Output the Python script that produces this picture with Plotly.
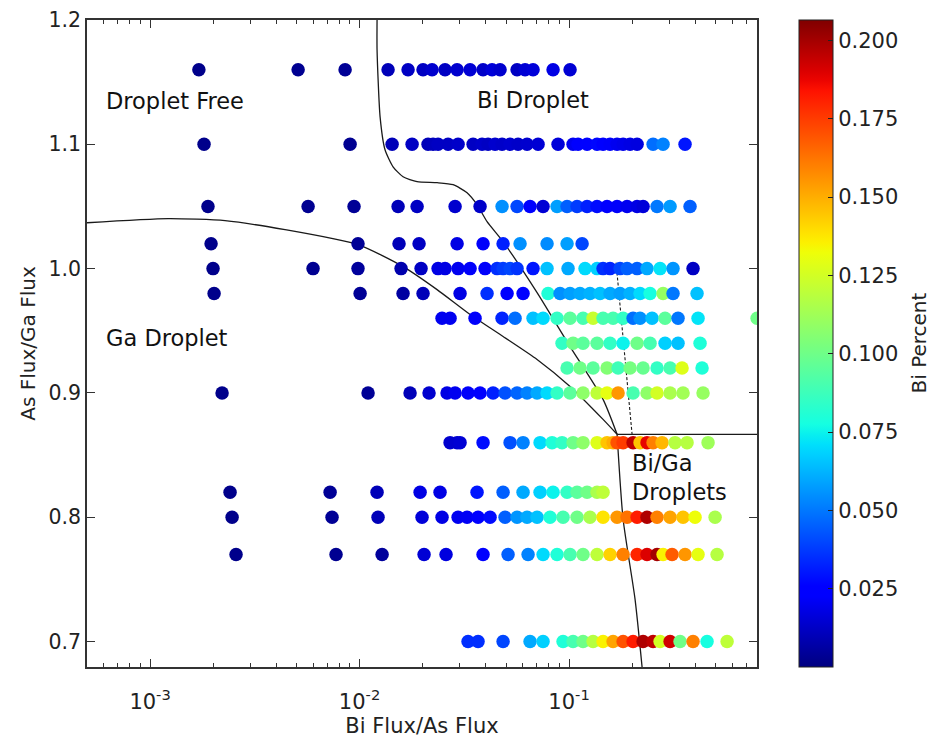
import numpy as np
import plotly.graph_objects as go

# ---- growth-condition map: Bi/As flux ratio (x), As/Ga flux ratio (y), Bi fraction (colour)
x_116 = [0.00171, 0.00509, 0.00853, 0.01368, 0.01704, 0.02009, 0.02219, 0.02559, 0.02921,
         0.03369, 0.03886, 0.04291, 0.04685, 0.05647, 0.06166, 0.06733, 0.08387, 0.1011]
c_116 = [0.002, 0.003, 0.004, 0.010, 0.012, 0.012, 0.014, 0.012, 0.014,
         0.015, 0.013, 0.016, 0.014, 0.012, 0.015, 0.016, 0.018, 0.015]

x_110 = [0.00181, 0.00901, 0.0143, 0.01781, 0.02123, 0.02243, 0.0237, 0.02645, 0.02953, 0.03482,
         0.03843, 0.04106, 0.04435, 0.04789, 0.05229, 0.0571, 0.06303, 0.07113, 0.08861, 0.1045,
         0.1104, 0.1219, 0.136, 0.1453, 0.1569, 0.1695, 0.1811, 0.1955, 0.2112, 0.2518, 0.281, 0.3578]
c_110 = [0.002, 0.003, 0.010, 0.012, 0.010, 0.011, 0.012, 0.012, 0.013, 0.012,
         0.013, 0.012, 0.014, 0.013, 0.014, 0.013, 0.014, 0.015, 0.016, 0.020,
         0.024, 0.026, 0.027, 0.025, 0.022, 0.020, 0.019, 0.018, 0.017, 0.048, 0.052, 0.030]

x_105 = [0.00189, 0.00568, 0.00941, 0.01527, 0.01882, 0.02857, 0.0376, 0.04789, 0.05647, 0.06514,
         0.07515, 0.08764, 0.09783, 0.1092, 0.1219, 0.136, 0.1518, 0.1695, 0.1892, 0.2112,
         0.2256, 0.263, 0.3035, 0.378]
c_105 = [0.002, 0.003, 0.004, 0.010, 0.012, 0.014, 0.013, 0.055, 0.040, 0.025,
         0.015, 0.058, 0.045, 0.038, 0.032, 0.028, 0.025, 0.022, 0.020, 0.018,
         0.016, 0.050, 0.057, 0.045]

x_102 = [0.001955, 0.00983, 0.01543, 0.01923, 0.02921, 0.03886, 0.04842, 0.05836, 0.07852,
         0.09783, 0.1154]
c_102 = [0.002, 0.004, 0.010, 0.012, 0.018, 0.022, 0.032, 0.055, 0.054, 0.058, 0.040]

x_100 = [0.001998, 0.005998, 0.00983, 0.01578, 0.01966, 0.0237, 0.02559, 0.02953, 0.03369, 0.03972,
         0.04533, 0.04842, 0.05229, 0.05647, 0.06733, 0.07852, 0.0989, 0.1192, 0.136, 0.1453,
         0.1569, 0.1752, 0.1892, 0.2112, 0.2356, 0.2719, 0.3136, 0.3907]
c_100 = [0.002, 0.003, 0.005, 0.008, 0.012, 0.018, 0.018, 0.020, 0.022, 0.022,
         0.035, 0.038, 0.040, 0.036, 0.030, 0.065, 0.060, 0.070, 0.068, 0.035,
         0.033, 0.040, 0.045, 0.045, 0.060, 0.072, 0.056, 0.012]

x_098 = [0.002021, 0.01006, 0.01613, 0.02009, 0.03018, 0.04061, 0.0506, 0.06032, 0.07939, 0.09057,
         0.1011, 0.1128, 0.1259, 0.1406, 0.1569, 0.1752, 0.1955, 0.2182, 0.2436, 0.281,
         0.3136, 0.4083]
c_098 = [0.002, 0.004, 0.006, 0.010, 0.018, 0.035, 0.025, 0.025, 0.080, 0.055,
         0.058, 0.060, 0.062, 0.065, 0.060, 0.058, 0.062, 0.070, 0.078, 0.110,
         0.050, 0.065]

x_096 = [0.02476, 0.02704, 0.03559, 0.04789, 0.05524, 0.06733, 0.07515, 0.08764, 0.1011, 0.1166,
         0.1302, 0.1453, 0.1622, 0.1811, 0.2021, 0.2182, 0.249, 0.2872, 0.3313, 0.4128, 0.7898]
c_096 = [0.020, 0.020, 0.022, 0.033, 0.048, 0.065, 0.070, 0.085, 0.095, 0.090,
         0.122, 0.090, 0.090, 0.085, 0.048, 0.055, 0.065, 0.095, 0.050, 0.072, 0.100]

x_094 = [0.09259, 0.1045, 0.1166, 0.136, 0.1569, 0.1811, 0.2112, 0.2436, 0.2872, 0.3313, 0.422]
c_094 = [0.085, 0.100, 0.095, 0.095, 0.085, 0.075, 0.100, 0.090, 0.068, 0.065, 0.080]

x_092 = [0.09783, 0.1128, 0.1302, 0.1518, 0.1714, 0.1955, 0.2256, 0.263, 0.3035, 0.3462, 0.4313]
c_092 = [0.090, 0.100, 0.095, 0.105, 0.088, 0.102, 0.098, 0.085, 0.090, 0.128, 0.080]

x_090 = [0.002207, 0.01098, 0.01742, 0.02146, 0.02616, 0.02857, 0.03295, 0.0376, 0.04338, 0.04949,
         0.05647, 0.06303, 0.07036, 0.07852, 0.08764, 0.1011, 0.1166, 0.136, 0.1518, 0.1714,
         0.2021, 0.2356, 0.263, 0.3035, 0.35, 0.436]
c_090 = [0.002, 0.004, 0.010, 0.014, 0.018, 0.020, 0.022, 0.025, 0.032, 0.042,
         0.046, 0.052, 0.060, 0.070, 0.085, 0.095, 0.108, 0.120, 0.130, 0.155,
         0.090, 0.108, 0.125, 0.115, 0.113, 0.110]

x_086 = [0.02704, 0.02921, 0.03018, 0.03886, 0.05229, 0.06032, 0.07271, 0.08296, 0.09259, 0.1045,
         0.1166, 0.136, 0.1518, 0.1622, 0.1695, 0.1811, 0.2021, 0.2182, 0.2356, 0.2518,
         0.2779, 0.3206, 0.3657, 0.4607]
c_086 = [0.014, 0.014, 0.015, 0.028, 0.042, 0.052, 0.070, 0.080, 0.085, 0.100,
         0.108, 0.128, 0.145, 0.150, 0.170, 0.175, 0.195, 0.145, 0.188, 0.160,
         0.148, 0.118, 0.118, 0.112]

x_082 = [0.002409, 0.007232, 0.01212, 0.01945, 0.02422, 0.03638, 0.04842, 0.06032, 0.07271,
         0.08387, 0.09783, 0.1092, 0.1219, 0.136, 0.1453]
c_082 = [0.002, 0.004, 0.010, 0.018, 0.018, 0.030, 0.045, 0.060, 0.068,
         0.075, 0.085, 0.095, 0.100, 0.115, 0.120]

x_080 = [0.002463, 0.00739, 0.01225, 0.01987, 0.02476, 0.02953, 0.0326, 0.03678, 0.04197, 0.04949,
         0.05647, 0.06303, 0.07036, 0.08115, 0.09361, 0.1092, 0.1259, 0.1453, 0.1695, 0.1892,
         0.2112, 0.2356, 0.263, 0.3035, 0.35, 0.3994, 0.4977]
c_080 = [0.002, 0.004, 0.010, 0.016, 0.018, 0.020, 0.021, 0.025, 0.028, 0.045,
         0.056, 0.060, 0.065, 0.080, 0.090, 0.100, 0.115, 0.138, 0.155, 0.163,
         0.182, 0.198, 0.160, 0.152, 0.145, 0.132, 0.115]

x_077 = [0.002573, 0.00772, 0.01281, 0.02032, 0.02587, 0.03886, 0.05115, 0.06373, 0.07515, 0.08764,
         0.1011, 0.1166, 0.136, 0.1569, 0.1811, 0.2112, 0.2356, 0.263, 0.281, 0.3102,
         0.3578, 0.4128, 0.5087]
c_077 = [0.002, 0.003, 0.005, 0.015, 0.017, 0.025, 0.045, 0.052, 0.070, 0.080,
         0.090, 0.100, 0.120, 0.142, 0.160, 0.180, 0.190, 0.200, 0.135, 0.168,
         0.155, 0.130, 0.118]

x_070 = [0.03295, 0.03678, 0.04842, 0.06514, 0.07515, 0.09361, 0.1045, 0.1166, 0.1302, 0.1453,
         0.1622, 0.1811, 0.2021, 0.2256, 0.2518, 0.2719, 0.3035, 0.3387, 0.3907, 0.4557, 0.5679]
c_070 = [0.035, 0.035, 0.040, 0.060, 0.068, 0.080, 0.090, 0.100, 0.118, 0.135,
         0.152, 0.170, 0.182, 0.198, 0.195, 0.125, 0.192, 0.100, 0.160, 0.078, 0.120]

rows = [
    (1.16, x_116, c_116), (1.10, x_110, c_110), (1.05, x_105, c_105), (1.02, x_102, c_102),
    (1.00, x_100, c_100), (0.98, x_098, c_098), (0.96, x_096, c_096), (0.94, x_094, c_094),
    (0.92, x_092, c_092), (0.90, x_090, c_090), (0.86, x_086, c_086), (0.82, x_082, c_082),
    (0.80, x_080, c_080), (0.77, x_077, c_077), (0.70, x_070, c_070),
]

# ---- phase boundaries
ga_bound_x = [0.0005, 0.001219, 0.00228, 0.00441, 0.00983, 0.01613, 0.02344, 0.03369,
              0.04842, 0.07036, 0.1011, 0.1453, 0.1695]
ga_bound_y = [1.0369, 1.0402, 1.0386, 1.0313, 1.0193, 1.0016, 0.9831, 0.9631,
              0.9454, 0.9269, 0.9052, 0.8787, 0.8667]

bi_bound_x = [0.01212, 0.01212, 0.01253, 0.01323, 0.01445, 0.01613, 0.01882, 0.02344, 0.02795,
              0.0326, 0.03638, 0.04061, 0.04842, 0.07036, 0.1011, 0.1453, 0.1695]
bi_bound_y = [1.2, 1.1759, 1.1221, 1.0956, 1.0819, 1.0739, 1.0699, 1.0691, 1.0675,
              1.0610, 1.0514, 1.0378, 1.0217, 0.9807, 0.9373, 0.8948, 0.8667]

biga_bound_x = [0.1695, 0.1811, 0.2065, 0.2231]
biga_bound_y = [0.8667, 0.7984, 0.7341, 0.6795]

flat_bound_x = [0.1695, 0.9]
flat_bound_y = [0.8667, 0.8667]

dash_x = [0.1676, 0.1999]
dash_y = [1.0048, 0.8667]

cbar_ticks = [0.025, 0.050, 0.075, 0.100, 0.125, 0.150, 0.175, 0.200]
y_ticks = [0.7, 0.8, 0.9, 1.0, 1.1, 1.2]

# ---- matplotlib-style "jet" colour map
def jet_scale(n=65):
    r = ([0, 0.35, 0.66, 0.89, 1], [0, 0, 1, 1, 0.5])
    g = ([0, 0.125, 0.375, 0.64, 0.91, 1], [0, 0, 1, 1, 0, 0])
    b = ([0, 0.11, 0.34, 0.65, 1], [0.5, 1, 1, 0, 0])
    out = []
    for t in np.linspace(0, 1, n):
        rr = np.interp(t, *r); gg = np.interp(t, *g); bb = np.interp(t, *b)
        out.append([float(t), f"rgb({int(round(rr*255))},{int(round(gg*255))},{int(round(bb*255))})"])
    return out

FONT = "DejaVu Sans"
INK = "#222222"

px_all, py_all, pc_all = [], [], []
for yv, xs, cs in rows:
    px_all += xs
    py_all += [yv] * len(xs)
    pc_all += cs

fig = go.Figure()

line_style = dict(color="#1a1a1a", width=1.3)
for lx, ly in [(ga_bound_x, ga_bound_y), (bi_bound_x, bi_bound_y),
               (biga_bound_x, biga_bound_y), (flat_bound_x, flat_bound_y)]:
    fig.add_trace(go.Scatter(x=lx, y=ly, mode="lines", line=dict(line_style, shape="spline", smoothing=0.6),
                             showlegend=False, hoverinfo="skip"))
fig.add_trace(go.Scatter(x=dash_x, y=dash_y, mode="lines",
                         line=dict(color="#1a1a1a", width=1.1, dash="3px,2px"),
                         showlegend=False, hoverinfo="skip"))

fig.add_trace(go.Scatter(
    x=px_all, y=py_all, mode="markers", showlegend=False,
    marker=dict(
        size=13.5, color=pc_all, colorscale=jet_scale(), cmin=0.0, cmax=0.2065,
        line=dict(width=0),
        colorbar=dict(
            x=(799 - 87) / 670, xanchor="left", xpad=0,
            y=0.5, yanchor="middle", len=1, lenmode="fraction", ypad=0,
            thickness=34, outlinewidth=1, outlinecolor=INK,
            tickvals=cbar_ticks, tickformat=".3f", ticks="inside", ticklen=5,
            tickcolor=INK, tickfont=dict(family=FONT, size=21, color=INK),
        ),
    ),
))

ann_font = dict(family=FONT, size=22.5, color="#111111")
for txt, ax_, ay_ in [("Droplet Free", 0.000603, 1.1349), ("Bi Droplet", 0.0356, 1.1357),
                      ("Ga Droplet", 0.000603, 0.9438), ("Bi/Ga<br>Droplets", 0.1955, 0.8321)]:
    fig.add_annotation(x=np.log10(ax_), y=ay_, xref="x", yref="y", text=txt, showarrow=False,
                       xanchor="left", yanchor="middle", align="left", font=ann_font)

# colour-bar title, rotated and set just right of the tick labels
fig.add_annotation(x=(918 - 87) / 670, y=0.5, xref="paper", yref="paper", text="Bi Percent",
                   textangle=-90, showarrow=False, xanchor="center", yanchor="middle",
                   font=dict(family=FONT, size=20, color=INK))

axis_common = dict(showline=True, linecolor="#333333", linewidth=1.5, mirror="ticks",
                   ticks="inside", ticklen=8, tickwidth=1, tickcolor="#333333",
                   showgrid=False, zeroline=False)

fig.update_xaxes(type="log", range=[np.log10(0.0005), np.log10(0.789)],
                 tickmode="array", tickvals=[0.001, 0.01, 0.1],
                 ticktext=["10<sup>-3</sup>", "10<sup>-2</sup>", "10<sup>-1</sup>"],
                 tickfont=dict(family=FONT, size=21, color=INK), ticklabelstandoff=15,
                 minor=dict(ticks="inside", ticklen=4, tickwidth=1, tickcolor="#333333",
                            tickmode="array",
                            tickvals=[k * 10.0 ** e for e in (-4, -3, -2, -1) for k in range(2, 10)]),
                 title=dict(text="Bi Flux/As Flux", font=dict(family=FONT, size=21, color=INK), standoff=4),
                 **axis_common)
fig.update_yaxes(range=[0.6795, 1.2], tickmode="array", tickvals=y_ticks,
                 ticktext=[f"{v:.1f}" for v in y_ticks],
                 tickfont=dict(family=FONT, size=20.5, color=INK),
                 title=dict(text="As Flux/Ga Flux", font=dict(family=FONT, size=20, color=INK), standoff=8),
                 **axis_common)

fig.update_layout(
    width=931, height=739,
    margin=dict(l=87, r=174, t=20, b=72, autoexpand=False),
    paper_bgcolor="white", plot_bgcolor="white",
    font=dict(family=FONT, color=INK),
)

fig.write_html("out.html")
